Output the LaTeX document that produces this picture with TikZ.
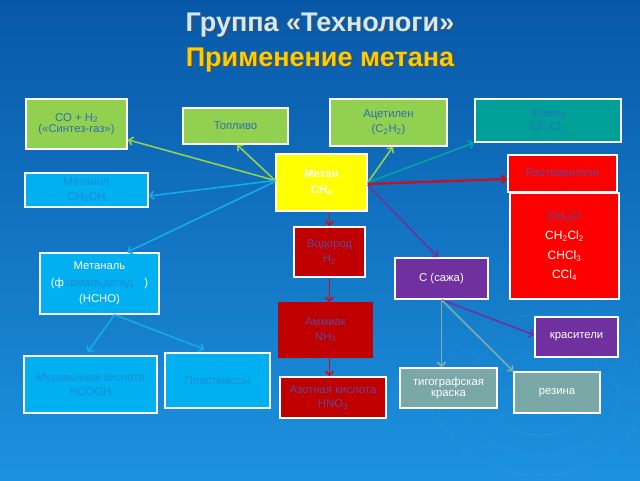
\documentclass[tikz,border=0pt]{standalone}
\usepackage{fontspec}
\setmainfont{Liberation Sans}
\usetikzlibrary{arrows.meta}
\definecolor{bgtop}{RGB}{8,88,168}
\definecolor{bgbot}{RGB}{28,146,222}
\definecolor{cgreen}{RGB}{146,208,80}
\definecolor{ccyan}{RGB}{0,176,240}
\definecolor{cteal}{RGB}{0,160,152}
\definecolor{cyellow}{RGB}{255,255,0}
\definecolor{cred}{RGB}{255,0,0}
\definecolor{cdred}{RGB}{192,0,0}
\definecolor{cpurple}{RGB}{112,48,160}
\definecolor{cgray}{RGB}{122,168,166}
\definecolor{tgreen}{RGB}{50,110,175}
\definecolor{tcyan}{RGB}{30,140,215}
\definecolor{tteal}{RGB}{30,120,190}
\definecolor{tred}{RGB}{100,70,150}
\definecolor{titleblue}{RGB}{205,235,255}
\definecolor{titleyellow}{RGB}{255,204,0}
\definecolor{lgreen}{RGB}{146,208,80}
\definecolor{lcyan}{RGB}{20,170,235}
\definecolor{lteal}{RGB}{0,165,160}
\definecolor{lred}{RGB}{190,20,40}
\definecolor{lpurple}{RGB}{112,48,160}
\definecolor{lgray}{RGB}{125,175,170}
\tikzset{
  box/.style={draw=white, line width=1.5pt, align=center, inner sep=1pt,
    font=\fontsize{11.3}{14.5}\selectfont},
  conn/.style={line width=1.6pt, -{Straight Barb[length=4pt,width=8pt]}},
  titletext/.style={font=\bfseries\fontsize{27}{30}\selectfont}
}
\newcommand{\mybox}[6]{% name, cx, cy, w, h, style
  \node[box,#6, minimum width=#4pt, minimum height=#5pt] (#1) at (#2,#3)}
\begin{document}
\begin{tikzpicture}[x=1pt,y=-1pt]
\useasboundingbox (0,0) rectangle (640,480);
\shade[top color=bgtop, bottom color=bgbot] (0,0) rectangle (640,480);
% faint ripples
\foreach \r in {20,40,60,80}{
  \draw[white, opacity=0.035, line width=1.2pt] (540,395) ellipse ({\r*1.3} and \r);
  \draw[white, opacity=0.03, line width=1.2pt] (690,330) ellipse ({\r*1.3} and \r);
}
% title
\node[titletext, text=black!70] (t1s) at (321.5,26.5) {Группа «Технологи»};
\node[titletext, text=titleblue] (t1) at (320,25) {Группа «Технологи»};
\node[titletext, text=black!70] (t2s) at (321.5,61.5) {Применение метана};
\node[titletext, text=titleyellow] (t2) at (320,60) {Применение метана};
% boxes
\mybox{syn}{76.5}{124}{101}{50}{fill=cgreen, text=tgreen}{CO + H\textsubscript{2}\\[-3pt](«Синтез-газ»)};
\mybox{fuel}{235.5}{126}{105}{36}{fill=cgreen, text=tgreen}{Топливо};
\mybox{acet}{388.5}{122.5}{117}{47}{fill=cgreen, text=tgreen}{Ацетилен\\(C\textsubscript{2}H\textsubscript{2})};
\mybox{freon}{548}{120.5}{146}{43}{fill=cteal, text=tteal}{Фреон\\CF\textsubscript{2}Cl\textsubscript{2}};
\mybox{methane}{321.5}{182.5}{91}{57}{fill=cyellow, text=white, font=\bfseries\fontsize{11.3}{16}\selectfont}{Метан\\CH\textsubscript{4}};
\mybox{solv}{562.5}{173.5}{109}{37}{fill=cred, text=tred}{Растворители};
\mybox{chlor}{564.5}{246}{109}{106}{fill=cred, text=white, font=\fontsize{12}{19.5}\selectfont}{\textcolor{tred}{CH\textsubscript{3}Cl}\\CH\textsubscript{2}Cl\textsubscript{2}\\CHCl\textsubscript{3}\\CCl\textsubscript{4}};
\mybox{methanol}{86.5}{190}{123}{34}{fill=ccyan, text=tcyan}{Метанол\\CH\textsubscript{3}OH};
\mybox{hydro}{329.5}{252}{71}{50}{fill=cdred, text=tred}{Водород\\H\textsubscript{2}};
\node[box, draw=cdred, fill=cdred, text=tred, minimum width=93pt, minimum height=54pt] (ammon) at (325.5,330) {Аммиак\\NH\textsubscript{3}};
\mybox{nitric}{333}{397.5}{106}{41}{fill=cdred, text=tred}{Азотная кислота\\HNO\textsubscript{3}};
\mybox{methanal}{99.5}{283.5}{119}{61}{fill=ccyan, text=white, font=\fontsize{11.3}{16.5}\selectfont}{Метаналь\\(ф\textcolor{tcyan}{ормальдегид}\quad)\\(HCHO)};
\mybox{formic}{90.5}{384.5}{133}{57}{fill=ccyan, text=tcyan}{Муравьиная кислота\\HCOOH};
\mybox{plast}{217.5}{380.5}{105}{55}{fill=ccyan, text=tcyan}{Пластмассы};
\mybox{soot}{441.5}{278.5}{93}{41}{fill=cpurple, text=white}{С (сажа)};
\mybox{dyes}{576.5}{337}{83}{40}{fill=cpurple, text=white}{красители};
\mybox{typo}{448.5}{388}{97}{40}{fill=cgray, text=white}{тигографская\\[-3pt]краска};
\mybox{rubber}{557}{392.5}{86}{41}{fill=cgray, text=white}{резина};
% connectors from methane
\draw[conn, lgreen] ([yshift=2pt]methane.west) -- ([yshift=10pt]syn.south east);
\draw[conn, lgreen] ([yshift=2pt]methane.west) -- ([xshift=1.5pt]fuel.south);
\draw[conn, lcyan] ([yshift=2pt]methane.west) -- ([yshift=-6pt]methanol.east);
\draw[conn, lcyan] ([yshift=1pt]methane.west) -- ([xshift=27.5pt]methanal.north);
\draw[conn, lgreen] (methane.east) -- ([xshift=4.5pt]acet.south);
\draw[conn, lteal] (methane.east) -- (freon.south west);
\draw[conn, lred, line width=2.4pt] ([yshift=-1.5pt]methane.east) -- ([yshift=-5.5pt]solv.west);
\draw[conn, lpurple] ([yshift=-2.5pt]methane.east) -- ([xshift=-3.5pt]soot.north);
% vertical chain
\draw[conn, lred] (hydro.north |- methane.south) -- (hydro.north);
\draw[conn, lred] (hydro.south) -- (hydro.south |- ammon.north);
\draw[conn, lred] (hydro.south |- ammon.south) -- (hydro.south |- nitric.north);
% methanal
\draw[conn, lcyan] ([xshift=15pt]methanal.south) -- ([xshift=-3pt,yshift=3pt]formic.north);
\draw[conn, lcyan] ([xshift=15pt]methanal.south) -- ([xshift=-13pt,yshift=3pt]plast.north);
% soot
\draw[conn, lpurple] (soot.south) -- ([yshift=2pt]dyes.west);
\draw[conn, lgray] (soot.south) -- (soot.south |- typo.north);
\draw[conn, lgray] (soot.south) -- (rubber.north west);
\end{tikzpicture}
\end{document}
